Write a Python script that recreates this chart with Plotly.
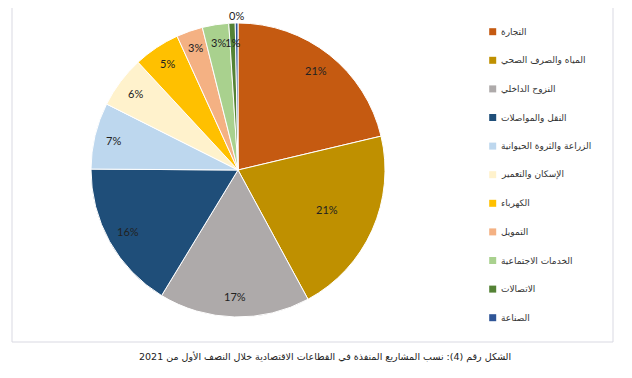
import math
import plotly.graph_objects as go

# ---- data ----
sectors = [
    "التجارة",
    "المياه والصرف الصحي",
    "النزوح الداخلي",
    "النقل والمواصلات",
    "الزراعة والثروة الحيوانية",
    "الإسكان والتعمير",
    "الكهرباء",
    "التمويل",
    "الخدمات الاجتماعية",
    "الاتصالات",
    "الصناعة",
]
shares = [21.3, 20.8, 16.6, 16.4, 7.3, 5.7, 5.1, 2.9, 2.9, 0.7, 0.3]
colors = ["#C55A11", "#BF9000", "#AEAAAA", "#1F4E79", "#BDD7EE", "#FFF2CC",
          "#FFC000", "#F4B183", "#A9D18E", "#548235", "#2F5597"]
caption = "الشكل رقم (4): نسب المشاريع المنفذة في القطاعات الاقتصادية خلال النصف الأول من 2021"

# label distance from centre, as a fraction of the radius (style)
label_radius = [0.86, 0.66, 0.86, 0.86, 0.87, 0.87, 0.87, 0.88, 0.88, 0.87, 1.05]

# page body has an 8px margin; figure sized to fit the window
OFF = 8
W, H = 632 - 2 * OFF, 378 - 2 * OFF
ARABIC = "DejaVu Sans"


def px(x):
    return (x - OFF) / W


def py(y):
    return 1 - (y - OFF) / H


# pie geometry in screen pixels
cx, cy, r = 238, 170, 147

fig = go.Figure()
fig.add_trace(go.Pie(
    labels=sectors,
    values=shares,
    sort=False,
    direction="clockwise",
    rotation=0,
    marker=dict(colors=colors, line=dict(color="white", width=1)),
    textinfo="none",
    showlegend=False,
    hoverinfo="label+percent",
    domain=dict(x=[px(cx - r), px(cx + r)], y=[py(cy + r), py(cy - r)]),
))

shapes = [dict(type="rect", xref="paper", yref="paper",
               x0=px(12), x1=px(613), y0=py(342), y1=py(5),
               line=dict(color="#D9D9E2", width=1))]
annotations = []

# percentage labels, placed at each slice's mid-angle
total = sum(shares)
cum = 0.0
for v, rr in zip(shares, label_radius):
    mid = (cum + v / 2) / total * 2 * math.pi
    cum += v
    lx = cx + rr * r * math.sin(mid)
    ly = cy - rr * r * math.cos(mid)
    annotations.append(dict(xref="paper", yref="paper", x=px(lx), y=py(ly),
                            xanchor="center", yanchor="middle", showarrow=False,
                            text=f"{round(v / total * 100)}%",
                            font=dict(family="Lato, Liberation Sans, sans-serif",
                                      size=11, color="#222222")))

# manual legend
ly0, lstep, lxc, sq = 31.7, 28.6, 492.7, 7
for i, (name, col) in enumerate(zip(sectors, colors)):
    y = ly0 + i * lstep
    shapes.append(dict(type="rect", xref="paper", yref="paper",
                       x0=px(lxc - sq / 2), x1=px(lxc + sq / 2),
                       y0=py(y + sq / 2), y1=py(y - sq / 2),
                       fillcolor=col, line=dict(width=0)))
    annotations.append(dict(xref="paper", yref="paper", x=px(499), y=py(y),
                            xanchor="left", yanchor="middle", showarrow=False,
                            text=name, font=dict(family=ARABIC, size=9, color="#333333")))

annotations.append(dict(xref="paper", yref="paper", x=px(325), y=py(357),
                        xanchor="center", yanchor="middle", showarrow=False,
                        text=caption, font=dict(family=ARABIC, size=9.5, color="#222222")))

fig.update_layout(
    width=W, height=H,
    margin=dict(l=0, r=0, t=0, b=0),
    paper_bgcolor="white", plot_bgcolor="white",
    shapes=shapes, annotations=annotations,
)

fig.write_html("out.html")
